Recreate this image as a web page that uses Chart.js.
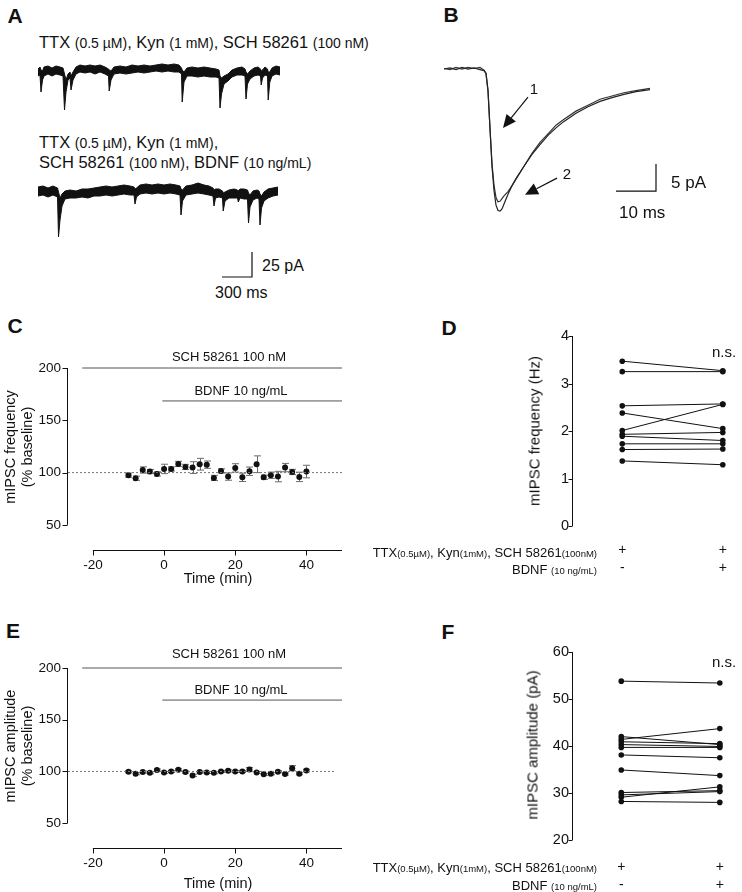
<!DOCTYPE html>
<html>
<head>
<meta charset="utf-8">
<script src="https://cdn.jsdelivr.net/npm/chart.js@4.4.0/dist/chart.umd.min.js"></script>
<style>
html, body { margin: 0; padding: 0; background: #fff; }
body { width: 742px; height: 892px; position: relative; overflow: hidden;
       font-family: "Liberation Sans", Arial, sans-serif; color: #111; }
canvas { position: absolute; }
.t { position: absolute; white-space: nowrap; line-height: 1; }
.c { transform: translate(-50%, -50%); }
.l { transform: translate(0, -50%); }
.r { transform: translate(-100%, -50%); }
.v { transform: translate(-50%, -50%) rotate(-90deg); }
.b { font-weight: bold; }
.s { font-size: 14px; }
.s2 { font-size: 9.5px; }
</style>
</head>
<body>

<!-- panel letters -->
<div class="t c b" style="left:15px;top:15px;font-size:21px">A</div>
<div class="t c b" style="left:451px;top:14px;font-size:21px">B</div>
<div class="t c b" style="left:15px;top:325px;font-size:21px">C</div>
<div class="t c b" style="left:449px;top:327px;font-size:21px">D</div>
<div class="t c b" style="left:13px;top:630px;font-size:21px">E</div>
<div class="t c b" style="left:448px;top:631px;font-size:21px">F</div>

<!-- A -->
<div class="t l" style="left:39px;top:42px;font-size:16.5px">TTX <span class="s">(0.5 µM)</span>, Kyn <span class="s">(1 mM)</span>, SCH 58261 <span class="s">(100 nM)</span></div>
<div class="t l" style="left:39px;top:142px;font-size:16.5px">TTX <span class="s">(0.5 µM)</span>, Kyn <span class="s">(1 mM)</span>,</div>
<div class="t l" style="left:39px;top:162px;font-size:16.5px">SCH 58261 <span class="s">(100 nM)</span>, BDNF <span class="s">(10 ng/mL)</span></div>
<div class="t l" style="left:262px;top:266px;font-size:16px">25 pA</div>
<div class="t l" style="left:215px;top:293px;font-size:16px">300 ms</div>
<canvas id="a1" width="244" height="56" style="left:38px;top:60px"></canvas>
<canvas id="a2" width="244" height="102" style="left:38px;top:180px"></canvas>

<!-- B -->
<canvas id="b" width="260" height="160" style="left:440px;top:60px"></canvas>
<div class="t c" style="left:534px;top:88px;font-size:15px">1</div>
<div class="t c" style="left:567px;top:173px;font-size:15px">2</div>
<div class="t l" style="left:671px;top:182px;font-size:17px">5 pA</div>
<div class="t l" style="left:619px;top:212px;font-size:17px">10 ms</div>

<!-- C -->
<canvas id="c" width="360" height="260" style="left:0px;top:340px"></canvas>
<div class="t c" style="left:229px;top:356px;font-size:13px">SCH 58261 100 nM</div>
<div class="t c" style="left:241px;top:390px;font-size:13px">BDNF 10 ng/mL</div>
<div class="t v" style="left:10px;top:447px;font-size:14.5px">mIPSC frequency</div>
<div class="t v" style="left:27px;top:447px;font-size:14.5px">(% baseline)</div>
<div class="t c" style="left:218px;top:578px;font-size:14.5px">Time (min)</div>

<!-- D -->
<canvas id="d" width="282" height="260" style="left:460px;top:320px"></canvas>
<div class="t v" style="left:534px;top:431px;font-size:15px">mIPSC frequency (Hz)</div>
<div class="t c" style="left:724px;top:351px;font-size:15px">n.s.</div>
<div class="t r" style="left:597px;top:552px;font-size:13px">TTX<span class="s2">(0.5µM)</span>, Kyn<span class="s2">(1mM)</span>, SCH 58261<span class="s2">(100nM)</span></div>
<div class="t r" style="left:597px;top:569px;font-size:13px">BDNF <span class="s2">(10 ng/mL)</span></div>

<!-- E -->
<canvas id="e" width="360" height="258" style="left:0px;top:640px"></canvas>
<div class="t c" style="left:229px;top:653px;font-size:13px">SCH 58261 100 nM</div>
<div class="t c" style="left:241px;top:689px;font-size:13px">BDNF 10 ng/mL</div>
<div class="t v" style="left:10px;top:746px;font-size:14.5px">mIPSC amplitude</div>
<div class="t v" style="left:27px;top:746px;font-size:14.5px">(% baseline)</div>
<div class="t c" style="left:218px;top:883px;font-size:14.5px">Time (min)</div>

<!-- F -->
<canvas id="f" width="282" height="256" style="left:460px;top:636px"></canvas>
<div class="t v" style="left:532px;top:745px;font-size:15px">mIPSC amplitude (pA)</div>
<div class="t c" style="left:724px;top:661px;font-size:15px">n.s.</div>
<div class="t r" style="left:597px;top:867px;font-size:13px">TTX<span class="s2">(0.5µM)</span>, Kyn<span class="s2">(1mM)</span>, SCH 58261<span class="s2">(100nM)</span></div>
<div class="t r" style="left:597px;top:885px;font-size:13px">BDNF <span class="s2">(10 ng/mL)</span></div>

<script>
// ---- A: raw traces (ms, pA), noise band given as upper / lower envelope
const a1Time = [0,20,30,45,60,100,140,180,220,250,265,280,300,320,330,350,380,420,470,520,570,620,670,705,712,730,760,820,880,940,1000,1060,1120,1180,1240,1300,1360,1410,1435,1442,1460,1490,1540,1600,1660,1720,1780,1810,1820,1835,1860,1900,1940,1990,2040,2070,2080,2095,2120,2160,2200,2225,2232,2245,2270,2295,2302,2318,2340,2380,2420];
const a1Upper = [3,5,2,1,5,6,4,6,5,4,-2,-8,-2,0,-4,0,5,7,6,7,6,7,5,3,2,1,5,6,5,7,6,7,6,7,8,7,8,7,4,2,0,4,5,4,5,4,3,2,-4,-6,-4,-2,2,4,5,3,0,-2,1,4,5,3,1,2,5,3,0,0,4,6,5];
const a1Lower = [-4,-3,-20,-8,-4,-2,-4,-2,-3,-4,-38,-20,-8,-6,-18,-8,-2,0,-1,0,-2,0,-2,-4,-19,-8,-2,-1,-2,-1,0,-1,0,1,0,1,0,0,-2,-30,-10,-4,-4,-5,-4,-5,-5,-6,-36,-22,-12,-9,-5,-3,-3,-4,-27,-12,-7,-4,-3,-4,-13,-6,-3,-4,-28,-10,-4,-2,-3];

const a2Time = [0,50,100,150,195,205,220,240,270,320,380,440,500,560,620,680,740,800,860,920,960,970,985,1020,1080,1140,1200,1260,1320,1380,1420,1430,1445,1480,1540,1600,1660,1710,1750,1760,1775,1810,1845,1852,1870,1910,1960,1995,2003,2020,2060,2095,2105,2120,2150,2190,2210,2220,2235,2260,2300,2350,2400];
const a2Upper = [5,6,4,6,4,0,-6,-2,1,2,1,3,3,4,5,6,5,6,7,6,5,3,4,7,8,7,8,7,8,7,6,3,2,6,7,9,7,6,4,2,3,3,1,-1,0,2,3,2,1,3,3,2,-1,-3,1,2,1,-2,-4,0,3,4,5];
const a2Lower = [-4,-3,-5,-3,-5,-45,-28,-14,-7,-6,-6,-5,-6,-4,-4,-3,-4,-3,-2,-3,-3,-12,-5,-2,-1,-2,-1,-2,-1,-2,-3,-23,-9,-3,-2,-1,-2,-3,-4,-14,-6,-5,-6,-19,-9,-6,-6,-6,-10,-6,-7,-7,-31,-15,-8,-6,-7,-33,-16,-9,-6,-4,-3];
const aScale = { ms: 300, pA: 25 };

// ---- B: averaged events (ms, pA)
const bTime = [0,1.5,3,4.5,6,7.5,9,10,10.5,11,11.5,12,12.5,13,13.5,14,14.5,15,16,17,18,20,22,24,26,28,30,33,36,39,42,45,48,51.5];
const bTrace1 = [0,0.2,-0.1,0.3,0,0.2,-0.1,-0.3,-0.8,-4,-11,-18,-22.5,-25.2,-26.2,-26.3,-25.9,-25.0,-23.2,-21.6,-20.3,-18.0,-15.8,-14.0,-12.3,-10.9,-9.7,-8.2,-7.0,-6.0,-5.3,-4.7,-4.2,-3.8];
const bTrace2 = [0.1,-0.1,0.3,0,0.3,0.1,0.3,-0.2,-0.8,-4,-11,-17.5,-21.5,-23.8,-24.6,-24.5,-24.0,-23.5,-22.7,-21.6,-20.4,-18.0,-15.6,-13.6,-12.0,-10.4,-9.3,-7.8,-6.7,-5.6,-5.0,-4.4,-4.0,-3.6];
const bScale = { ms: 10, pA: 5 };

// ---- C / E: time course (% baseline, mean and SEM)
const timeMin = [-10,-8,-6,-4,-2,0,2,4,6,8,10,12,14,16,18,20,22,24,26,28,30,32,34,36,38,40];
const freqPct = [97.5,94.6,102.5,101,98.7,103.5,103.5,108.3,105.4,104.8,108,107.6,94.9,101.6,96.2,104.5,95.5,101.3,108,95.5,97.5,96.2,104.8,100.6,95.9,101];
const freqSem = [2,2,3,2,2,4.5,2,2.5,2.5,5.6,5.6,3.5,2.5,2,3.5,4,4,4,8,2,3,5,4,2.5,4.5,6];
const ampPct = [99.7,97.8,99.4,98.7,101.3,99,100,101.6,99.4,96.2,99.4,99,98.7,100,100.6,100,100,101.9,99,97.2,97.8,99.7,97.5,103.1,97.8,100.9];
const ampSem = [1,1,1,1,1,1,1,1,1,1.2,1,1,1,1,1,1,1,2,1,1,1,1,1,2.5,1,1.2];
const timeTicks = [-20, 0, 20, 40];
const pctTicks = [50, 100, 150, 200];
const schSpan = [-23, 50];
const bdnfSpan = [-0.5, 50];

// ---- D / F: paired cells, control vs BDNF
const freqCtrl = [3.47,3.25,2.53,2.38,2.01,1.93,1.89,1.73,1.61,1.37];
const freqBdnf = [3.27,3.25,2.57,2.05,2.56,1.97,1.80,1.73,1.62,1.29];
const ampCtrl = [53.8,42.0,41.4,40.9,40.3,39.7,38.1,34.9,30.1,29.6,29.1,28.2];
const ampBdnf = [53.4,40.3,43.7,40.5,39.9,39.7,37.5,33.7,30.5,30.3,31.3,28.0];
const ttxRow = ['+', '+'];
const bdnfRow = ['-', '+'];
const hzTicks = [0, 1, 2, 3, 4];
const paTicks = [20, 30, 40, 50, 60];

const INK = '#111';

Chart.defaults.font.family = '"Liberation Sans", Arial, sans-serif';
Chart.defaults.color = INK;
Chart.defaults.animation = false;
Chart.defaults.events = [];
Chart.defaults.plugins.legend.display = false;
Chart.defaults.plugins.tooltip.enabled = false;
Chart.defaults.layout.autoPadding = false;
Chart.defaults.elements.point.radius = 0;
Chart.defaults.elements.line.tension = 0;

const pts = (xs, ys) => xs.map((x, i) => ({ x, y: ys[i] }));

function bare(x0, x1, y0, y1) {
    return {
        x: { type: 'linear', display: false, min: x0, max: x1 },
        y: { type: 'linear', display: false, min: y0, max: y1 }
    };
}

// L-shaped scale bar with its corner at (cx, cy)
function scaleBar(cx, cy, dx, dy) {
    return {
        data: [{ x: cx - dx, y: cy }, { x: cx, y: cy }, { x: cx, y: cy + dy }],
        borderColor: INK, borderWidth: 1.2, clip: false
    };
}

function traceChart(id, t, hi, lo, range, extra) {
    new Chart(document.getElementById(id), {
        type: 'line',
        data: {
            datasets: [
                { data: pts(t, lo), borderColor: INK, borderWidth: 1 },
                { data: pts(t, hi), borderColor: INK, borderWidth: 1, fill: '-1', backgroundColor: INK },
                ...extra
            ]
        },
        options: { responsive: false, layout: { padding: 0 }, scales: bare(...range) }
    });
}

traceChart('a1', a1Time, a1Upper, a1Lower, [0, 2440, -44, 12], []);
traceChart('a2', a2Time, a2Upper, a2Lower, [0, 2440, -90, 12],
    [scaleBar(2140, -85, aScale.ms, aScale.pA)]);

// arrows for panel B
function arrows(list) {
    return {
        id: 'arrows',
        afterDatasetsDraw(chart) {
            const { ctx, scales: { x, y } } = chart;
            list.forEach(a => {
                const x0 = x.getPixelForValue(a.from[0]), y0 = y.getPixelForValue(a.from[1]);
                const x1 = x.getPixelForValue(a.to[0]), y1 = y.getPixelForValue(a.to[1]);
                const ang = Math.atan2(y1 - y0, x1 - x0), L = 13, W = 6;
                const bx = x1 - L * Math.cos(ang), by = y1 - L * Math.sin(ang);
                ctx.save();
                ctx.strokeStyle = INK; ctx.fillStyle = INK; ctx.lineWidth = 1.2;
                ctx.beginPath(); ctx.moveTo(x0, y0); ctx.lineTo(bx, by); ctx.stroke();
                ctx.beginPath(); ctx.moveTo(x1, y1);
                ctx.lineTo(bx + W * Math.sin(ang), by - W * Math.cos(ang));
                ctx.lineTo(bx - W * Math.sin(ang), by + W * Math.cos(ang));
                ctx.closePath(); ctx.fill();
                ctx.restore();
            });
        }
    };
}

new Chart(document.getElementById('b'), {
    type: 'line',
    data: {
        datasets: [
            { data: pts(bTime, bTrace1), borderColor: '#222', borderWidth: 1.2 },
            { data: pts(bTime, bTrace2), borderColor: '#333', borderWidth: 1.2 },
            scaleBar(53, -22.6, bScale.ms, bScale.pA)
        ]
    },
    options: { responsive: false, layout: { padding: 0 }, scales: bare(-1, 64, -27.96, 1.67) },
    plugins: [arrows([
        { from: [21, -5.2], to: [14.75, -10.9] },
        { from: [28.25, -20.2], to: [20.25, -23.3] }
    ])]
});

// axis lines drawn only over the labelled range (GraphPad style)
function axisLines(cfg) {
    return {
        id: 'axisLines',
        afterDraw(chart) {
            const { ctx, chartArea: a, scales: { x, y } } = chart;
            ctx.save();
            ctx.strokeStyle = INK; ctx.lineWidth = 1;
            ctx.beginPath();
            if (cfg.y) {
                const px = Math.round(a.left) - 0.5;
                ctx.moveTo(px, y.getPixelForValue(cfg.y[0]));
                ctx.lineTo(px, y.getPixelForValue(cfg.y[1]));
                cfg.yTicks.forEach(v => {
                    const py = Math.round(y.getPixelForValue(v)) + 0.5;
                    ctx.moveTo(px - cfg.tick, py); ctx.lineTo(px, py);
                });
            }
            if (cfg.x) {
                const py = Math.round(a.bottom) + 0.5;
                ctx.moveTo(x.getPixelForValue(cfg.x[0]), py);
                ctx.lineTo(x.getPixelForValue(cfg.x[1]), py);
                cfg.xTicks.forEach(v => {
                    const px = Math.round(x.getPixelForValue(v)) + 0.5;
                    ctx.moveTo(px, py); ctx.lineTo(px, py + cfg.tick);
                });
            }
            ctx.stroke();
            ctx.restore();
        }
    };
}

function errorBars(xs, ys, es) {
    return {
        id: 'errorBars',
        beforeDatasetsDraw(chart) {
            const { ctx, scales: { x, y } } = chart;
            ctx.save();
            ctx.strokeStyle = '#6b6b6b'; ctx.lineWidth = 1;
            ctx.beginPath();
            xs.forEach((v, i) => {
                const px = Math.round(x.getPixelForValue(v)) + 0.5;
                const top = y.getPixelForValue(ys[i] + es[i]);
                const bot = y.getPixelForValue(ys[i] - es[i]);
                ctx.moveTo(px, top); ctx.lineTo(px, bot);
                ctx.moveTo(px - 3.5, top); ctx.lineTo(px + 3.5, top);
                ctx.moveTo(px - 3.5, bot); ctx.lineTo(px + 3.5, bot);
            });
            ctx.stroke();
            ctx.restore();
        }
    };
}

const hidden = { grid: { display: false, drawTicks: false }, border: { display: false } };

function courseChart(id, vals, sems, dotEnd, bdnfLevel) {
    new Chart(document.getElementById(id), {
        type: 'line',
        data: {
            datasets: [
                { data: [{ x: -27, y: 100 }, { x: dotEnd, y: 100 }], borderColor: '#777', borderWidth: 1, borderDash: [2, 2] },
                { data: [{ x: schSpan[0], y: 200 }, { x: schSpan[1], y: 200 }], borderColor: '#555', borderWidth: 1, clip: false },
                { data: [{ x: bdnfSpan[0], y: bdnfLevel }, { x: bdnfSpan[1], y: bdnfLevel }], borderColor: '#555', borderWidth: 1, clip: false },
                { data: pts(timeMin, vals), showLine: false, pointRadius: 3, pointBackgroundColor: INK, pointBorderWidth: 0 }
            ]
        },
        options: {
            responsive: false,
            layout: { padding: { top: 28, right: 18, left: 0, bottom: 0 } },
            scales: {
                x: {
                    type: 'linear', min: -27, max: 50, ...hidden,
                    ticks: { padding: 7, font: { size: 13.5 }, callback: v => String(v) },
                    afterBuildTicks: s => { s.ticks = timeTicks.map(v => ({ value: v })); },
                    afterFit: s => { s.height = 50; }
                },
                y: {
                    type: 'linear', min: 26, max: 200, ...hidden,
                    ticks: { padding: 7, font: { size: 13.5 }, callback: v => String(v) },
                    afterBuildTicks: s => { s.ticks = pctTicks.map(v => ({ value: v })); },
                    afterFit: s => { s.width = 68; }
                }
            }
        },
        plugins: [
            axisLines({ x: [-20, 50], xTicks: timeTicks, y: [50, 200], yTicks: pctTicks, tick: 5 }),
            errorBars(timeMin, vals, sems)
        ]
    });
}

courseChart('c', freqPct, freqSem, 50, 168.5);
courseChart('e', ampPct, ampSem, 48, 169);

function pairChart(id, ctrl, bdnf, yTicks, axisH, tickPad) {
    const datasets = ctrl.map((v, i) => ({
        data: [{ x: 0, y: v }, { x: 1, y: bdnf[i] }],
        borderColor: INK, borderWidth: 1,
        pointRadius: 2.8, pointBackgroundColor: INK, pointBorderWidth: 0
    }));
    new Chart(document.getElementById(id), {
        type: 'line',
        data: { datasets },
        options: {
            responsive: false,
            layout: { padding: { top: 16, right: 5, left: 0, bottom: 0 } },
            scales: {
                x: {
                    type: 'linear', min: -0.49, max: 1.118, ...hidden,
                    ticks: { padding: tickPad, font: { size: 14, lineHeight: 1.32 },
                             callback: (v, i) => [ttxRow[i], bdnfRow[i]] },
                    afterBuildTicks: s => { s.ticks = [0, 1].map(v => ({ value: v })); },
                    afterFit: s => { s.height = axisH; }
                },
                y: {
                    type: 'linear', min: yTicks[0], max: yTicks[yTicks.length - 1], ...hidden,
                    ticks: { padding: 4, font: { size: 14.5 }, callback: v => String(v) },
                    afterBuildTicks: s => { s.ticks = yTicks.map(v => ({ value: v })); },
                    afterFit: s => { s.width = 113; }
                }
            }
        },
        plugins: [axisLines({ y: [yTicks[0], yTicks[yTicks.length - 1]], yTicks, tick: 4 })]
    });
}

pairChart('d', freqCtrl, freqBdnf, hzTicks, 54, 14.75);
pairChart('f', ampCtrl, ampBdnf, paTicks, 52, 17.75);
</script>
</body>
</html>
